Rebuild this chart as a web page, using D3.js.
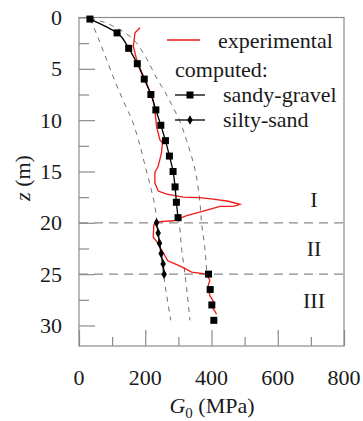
<!doctype html>
<html>
<head>
<script src="https://cdn.jsdelivr.net/npm/d3@7"></script>
<style>
  body { margin: 0; background: #fff; }
</style>
</head>
<body>
<svg width="363" height="421" font-family="'Liberation Serif', 'DejaVu Serif', serif"></svg>
<script>
// depth z (m), G0 (MPa)
const gravelZ = [0.15, 1.5, 3, 4.5, 6, 7.5, 9, 10.5, 12, 13.5, 15, 16.5, 18, 19.5];
const gravelG = [33, 115, 150, 176, 197, 217, 232, 247, 261, 273, 284, 290, 294, 299];
const gravelLowZ = [25, 26.5, 28, 29.5];
const gravelLowG = [391, 396, 401, 407];
const siltZ = [20, 21, 22, 23, 24, 25];
const siltG = [234, 239, 243, 248, 254, 257];

const expZ = [1.0, 1.5, 2.8, 4.1, 5.3, 6.4, 7.2, 8.0, 9.0, 10.6, 11.9, 12.2, 13.2, 14.5, 15.1, 16.1, 16.9, 17.2, 17.5, 17.55, 17.7, 17.9, 18.2, 18.4, 18.4, 18.85, 19.3, 19.8, 19.9, 20.2, 21.4, 21.8, 22.9, 23.7, 24.0, 24.3, 24.8, 25.0, 25.6, 26.1, 27.1, 27.6, 28.1, 28.6, 28.9];
const expG = [184, 169, 164, 174, 189, 204, 214, 224, 229, 234, 244, 252, 249, 239, 229, 229, 239, 265, 315, 365, 405, 451, 486, 466, 426, 375, 325, 285, 234, 226, 224, 234, 254, 268, 290, 310, 340, 385, 395, 390, 395, 405, 400, 410, 415];

const leftZ = [0.15, 1, 2.5, 4, 6, 8, 10, 12, 14, 16, 18, 20, 22, 25, 29.5];
const leftG = [33, 45, 64, 82, 106, 132, 160, 180, 196, 212, 227, 236, 243, 255, 277];
const midZ = [19.5, 20, 22.6, 25, 27, 29.5];
const midG = [299, 302, 310, 320, 327, 335];
const rightZ = [0.15, 0.4, 0.8, 1.3, 2, 3, 4, 5, 6, 7, 8.5, 10, 12, 14.8, 18, 20, 22.5, 25];
const rightG = [33, 70, 100, 130, 160, 185, 204, 220, 236, 255, 280, 303, 325, 350, 365, 370, 380, 386];

const xTicks = [0, 200, 400, 600, 800];
const yTicks = [0, 5, 10, 15, 20, 25, 30];
const layerNames = ["I", "II", "III"];
const layerZ = [17.7, 22.5, 27.6];
const boundaryZ = [20, 25];

const svg = d3.select("svg");
const x = d3.scaleLinear().domain([0, 800]).range([79, 344]);
const y = d3.scaleLinear().domain([0, 32]).range([17.5, 346]);
const grey = "#8a8a8a";
const ink = "#1a1a1a";

// frame
svg.append("rect").attr("x", x(0)).attr("y", y(0))
  .attr("width", x(800) - x(0)).attr("height", y(32) - y(0))
  .attr("fill", "none").attr("stroke", grey).attr("stroke-width", 1.2);

// ticks inside the frame
const bottom = svg.append("g").attr("transform", "translate(0," + y(32) + ")")
  .call(d3.axisTop(x).tickValues(d3.range(0, 801, 100)).tickSize(9).tickFormat(""));
bottom.selectAll(".tick line").filter(d => d % 200 === 0).attr("y2", -16);
const left = svg.append("g").attr("transform", "translate(" + x(0) + ",0)")
  .call(d3.axisRight(y).tickValues(d3.range(0, 32.1, 2.5)).tickSize(10).tickFormat(""));
left.selectAll(".tick line").filter(d => d % 5 === 0).attr("x2", 16);
svg.selectAll(".domain").remove();
svg.selectAll(".tick line").attr("stroke", grey).attr("stroke-width", 1.2);

svg.selectAll(".xl").data(xTicks).enter().append("text")
  .attr("x", d => x(d)).attr("y", 385).attr("text-anchor", "middle").attr("fill", ink)
  .attr("font-size", 22).text(d => d);
svg.selectAll(".yl").data(yTicks).enter().append("text")
  .attr("x", 62).attr("y", d => y(d)).attr("dy", "0.34em").attr("text-anchor", "end").attr("fill", ink)
  .attr("font-size", 22).text(d => d);

const xt = svg.append("text").attr("x", 212).attr("y", 413).attr("text-anchor", "middle").attr("fill", ink).attr("font-size", 22);
xt.append("tspan").attr("font-style", "italic").text("G");
xt.append("tspan").attr("dy", 5).attr("font-size", 15).text("0");
xt.append("tspan").attr("dy", -5).text(" (MPa)");
const yt = svg.append("text").attr("transform", "translate(30,178) rotate(-90)").attr("text-anchor", "middle").attr("fill", ink).attr("font-size", 22);
yt.append("tspan").attr("font-style", "italic").text("z");
yt.append("tspan").text(" (m)");

// layer boundaries
svg.selectAll(".bd").data(boundaryZ).enter().append("line")
  .attr("x1", x(0)).attr("x2", x(800)).attr("y1", d => y(d)).attr("y2", d => y(d))
  .attr("stroke", grey).attr("stroke-width", 1.2).attr("stroke-dasharray", "9,6");
svg.selectAll(".ln").data(layerNames).enter().append("text")
  .attr("x", 314).attr("y", (d, i) => y(layerZ[i])).attr("dy", "0.34em").attr("text-anchor", "middle").attr("fill", ink)
  .attr("font-size", 22).text(d => d);

const line = d3.line().x(d => x(d[1])).y(d => y(d[0]));
const smooth = d3.line().x(d => x(d[1])).y(d => y(d[0])).curve(d3.curveMonotoneY);
const zip = (zs, gs) => zs.map((z, i) => [z, gs[i]]);

// computed dashed curves
[[leftZ, leftG], [midZ, midG], [rightZ, rightG]].forEach(c => {
  svg.append("path").attr("d", smooth(zip(c[0], c[1])))
    .attr("fill", "none").attr("stroke", "#707070").attr("stroke-width", 1).attr("stroke-dasharray", "5,5");
});

// experimental
svg.append("path").attr("d", line(zip(expZ, expG)))
  .attr("fill", "none").attr("stroke", "#f01818").attr("stroke-width", 1.3);

// sandy-gravel
svg.append("path").attr("d", smooth(zip(gravelZ, gravelG)))
  .attr("fill", "none").attr("stroke", "#000").attr("stroke-width", 1.3);
svg.selectAll(".sq").data(zip(gravelZ, gravelG).concat(zip(gravelLowZ, gravelLowG))).enter().append("rect")
  .attr("x", d => x(d[1]) - 3.5).attr("y", d => y(d[0]) - 3.5).attr("width", 7).attr("height", 7).attr("fill", "#000");

// silty-sand
svg.append("path").attr("d", line(zip(siltZ, siltG)))
  .attr("fill", "none").attr("stroke", "#000").attr("stroke-width", 1.3);
const diamond = d3.symbol().type(d3.symbolDiamond).size(26);
svg.selectAll(".dm").data(zip(siltZ, siltG)).enter().append("path")
  .attr("transform", d => "translate(" + x(d[1]) + "," + y(d[0]) + ")").attr("d", diamond).attr("fill", "#000");

// legend
svg.append("line").attr("x1", 167).attr("x2", 200).attr("y1", 40).attr("y2", 40).attr("stroke", "#f01818").attr("stroke-width", 1.3);
svg.append("text").attr("x", 218).attr("y", 48).attr("fill", ink).attr("font-size", 22).text("experimental");
svg.append("text").attr("x", 175).attr("y", 77).attr("fill", ink).attr("font-size", 22).text("computed:");
svg.append("line").attr("x1", 175).attr("x2", 205).attr("y1", 95).attr("y2", 95).attr("stroke", "#000").attr("stroke-width", 1.3);
svg.append("rect").attr("x", 186.5).attr("y", 91.5).attr("width", 7).attr("height", 7).attr("fill", "#000");
svg.append("text").attr("x", 223).attr("y", 102).attr("fill", ink).attr("font-size", 22).text("sandy-gravel");
svg.append("line").attr("x1", 175).attr("x2", 205).attr("y1", 120).attr("y2", 120).attr("stroke", "#000").attr("stroke-width", 1.3);
svg.append("path").attr("transform", "translate(190,120)").attr("d", diamond).attr("fill", "#000");
svg.append("text").attr("x", 223).attr("y", 127).attr("fill", ink).attr("font-size", 22).text("silty-sand");
</script>
</body>
</html>
